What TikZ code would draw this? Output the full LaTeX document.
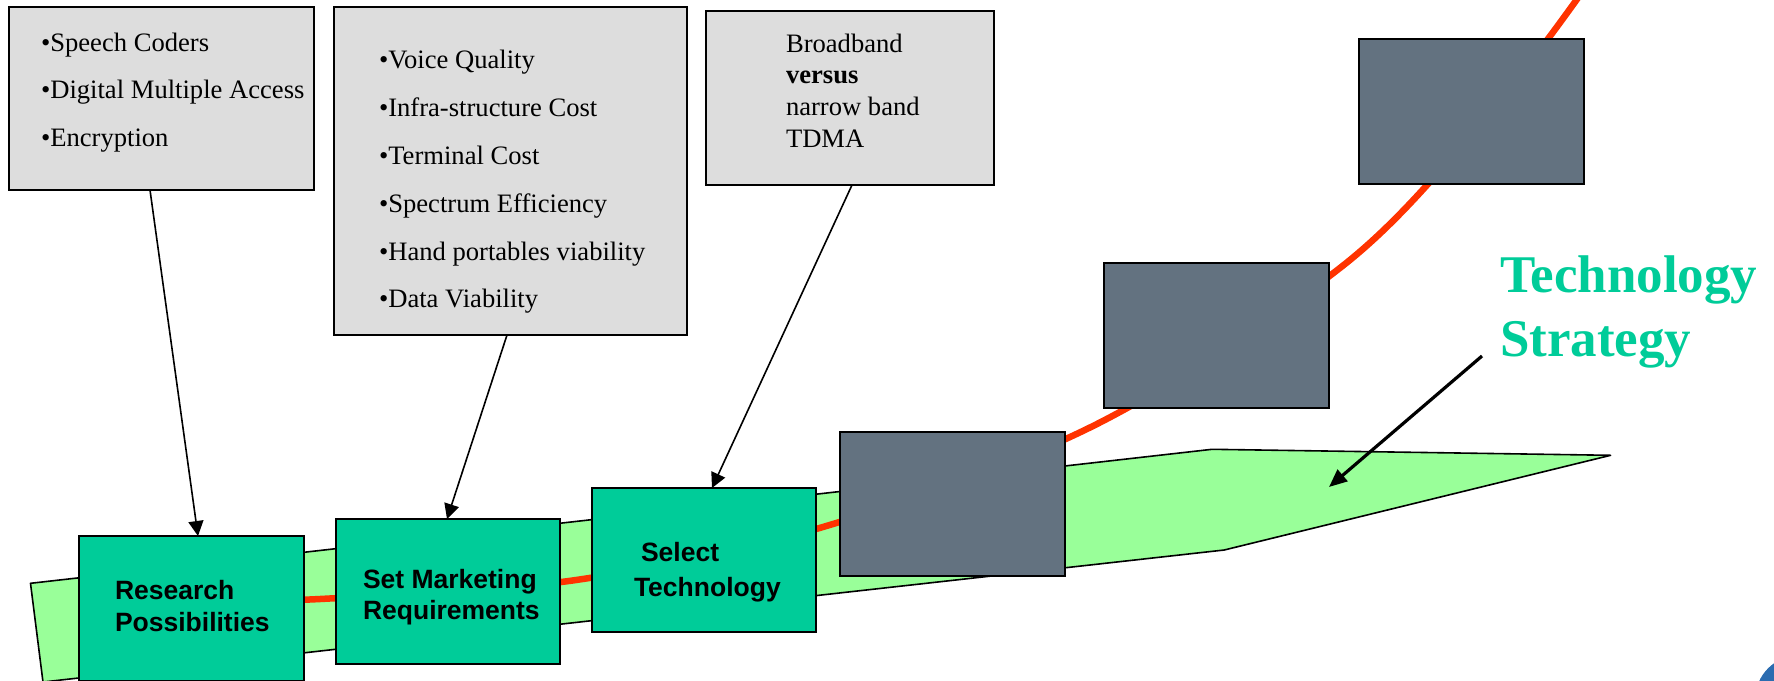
\documentclass[tikz,border=0pt]{standalone}
\usepackage{fontspec}
\setmainfont{Liberation Serif}
\newfontfamily\headsans{Liberation Sans}
\usetikzlibrary{arrows.meta,calc}
\definecolor{notegray}{HTML}{DDDDDD}
\definecolor{stepgreen}{HTML}{00CC99}
\definecolor{bandgreen}{HTML}{99FF99}
\definecolor{slate}{HTML}{637280}
\definecolor{curveorange}{HTML}{FF3300}
\definecolor{logoblue}{HTML}{2B6CB0}

\begin{document}
\begin{tikzpicture}[x=1pt,y=-1pt,
  box/.style={draw=black, line width=1.8pt, anchor=north west, inner sep=0pt, outer sep=0pt},
  notebox/.style={box, fill=notegray},
  stepbox/.style={box, fill=stepgreen},
  blankstep/.style={box, fill=slate},
  txt/.style={anchor=base west, inner sep=0pt, outer sep=0pt, font=\fontsize{26.6}{26.6}\selectfont},
  steptxt/.style={anchor=base west, inner sep=0pt, outer sep=0pt, font=\headsans\bfseries\fontsize{26.5}{26.5}\selectfont},
  titletxt/.style={anchor=base west, inner sep=0pt, outer sep=0pt, text=stepgreen, font=\bfseries\fontsize{53}{53}\selectfont},
  pointer/.style={-{Triangle[length=15pt,width=15pt]}, line width=1.6pt},
  bigpointer/.style={-{Triangle[length=18pt,width=15pt]}, line width=3.2pt},
]
\useasboundingbox (0,0) rectangle (1774,680);
\clip (0,0) rectangle (1774,680);

% strategy band
\filldraw[fill=bandgreen, draw=black, line width=1.6pt, line join=round]
  (30.5,583.3) -- (1212,449.3) -- (1610.6,455.3) -- (1224.2,550) -- (43,682) -- cycle;

% evolution curve running behind the steps
\draw[curveorange, line width=6.5pt]
  plot[smooth, tension=0.55] coordinates {(200,600) (320,599) (576,580) (828,525.5) (1097,424) (1345,264) (1491,111) (1580,-5)};

% process steps
\node[stepbox, minimum width=225, minimum height=145] (research) at (79,536) {};
\node[stepbox, minimum width=224, minimum height=145] (market) at (336,519) {};
\node[stepbox, minimum width=224, minimum height=144] (select) at (592,488) {};
\node[blankstep, minimum width=225, minimum height=144] (stepfour) at (840,432) {};
\node[blankstep, minimum width=225, minimum height=145] (stepfive) at (1104,263) {};
\node[blankstep, minimum width=225, minimum height=145] (stepsix) at (1359,39) {};

\node[steptxt] (researchA) at (115,599) {Research};
\node[steptxt] (researchB) at (115,631) {Possibilities};
\node[steptxt] (marketA) at (363,588) {Set Marketing};
\node[steptxt] (marketB) at (363,619) {Requirements};
\node[steptxt] (selectA) at (641,561) {Select};
\node[steptxt] (selectB) at (634,596) {Technology};

% notes
\node[notebox, minimum width=305, minimum height=183] (research notes) at (9,7) {};
\node[notebox, minimum width=353, minimum height=328] (market notes) at (334,7) {};
\node[notebox, minimum width=288, minimum height=174] (select notes) at (706,11) {};

\node[txt] (rn1) at (41,51) {•Speech Coders};
\node[txt] (rn2) at (41,98) {•Digital Multiple Access};
\node[txt] (rn3) at (41,146) {•Encryption};

\node[txt] (mn1) at (379,68) {•Voice Quality};
\node[txt] (mn2) at (379,116) {•Infra-structure Cost};
\node[txt] (mn3) at (379,164) {•Terminal Cost};
\node[txt] (mn4) at (379,212) {•Spectrum Efficiency};
\node[txt] (mn5) at (379,260) {•Hand portables viability};
\node[txt] (mn6) at (379,307) {•Data Viability};

\node[txt] (sn1) at (786,52) {Broadband};
\node[txt] (sn2) at (786,83) {\textbf{versus}};
\node[txt] (sn3) at (786,115) {narrow band};
\node[txt] (sn4) at (786,147) {TDMA};

% note pointers
\draw[pointer] ($(research notes.south west)+(141,0)$) -- ($(research.north west)+(119,0)$);
\draw[pointer] ($(market notes.south west)+(173,0)$) -- ($(market.north west)+(111,0)$);
\draw[pointer] ($(select notes.south west)+(146,0)$) -- ($(select.north west)+(120,0)$);

% title and its pointer
\node[titletxt] (titleA) at (1500,292) {Technology};
\node[titletxt] (titleB) at (1500,356) {Strategy};
\coordinate (titleTail) at (1482,356);
\coordinate (bandPoint) at (1329,487);
\draw[bigpointer] (titleTail) -- (bandPoint);

% corner mark
\fill[logoblue] (1800,700) circle (45pt);
\end{tikzpicture}
\end{document}
